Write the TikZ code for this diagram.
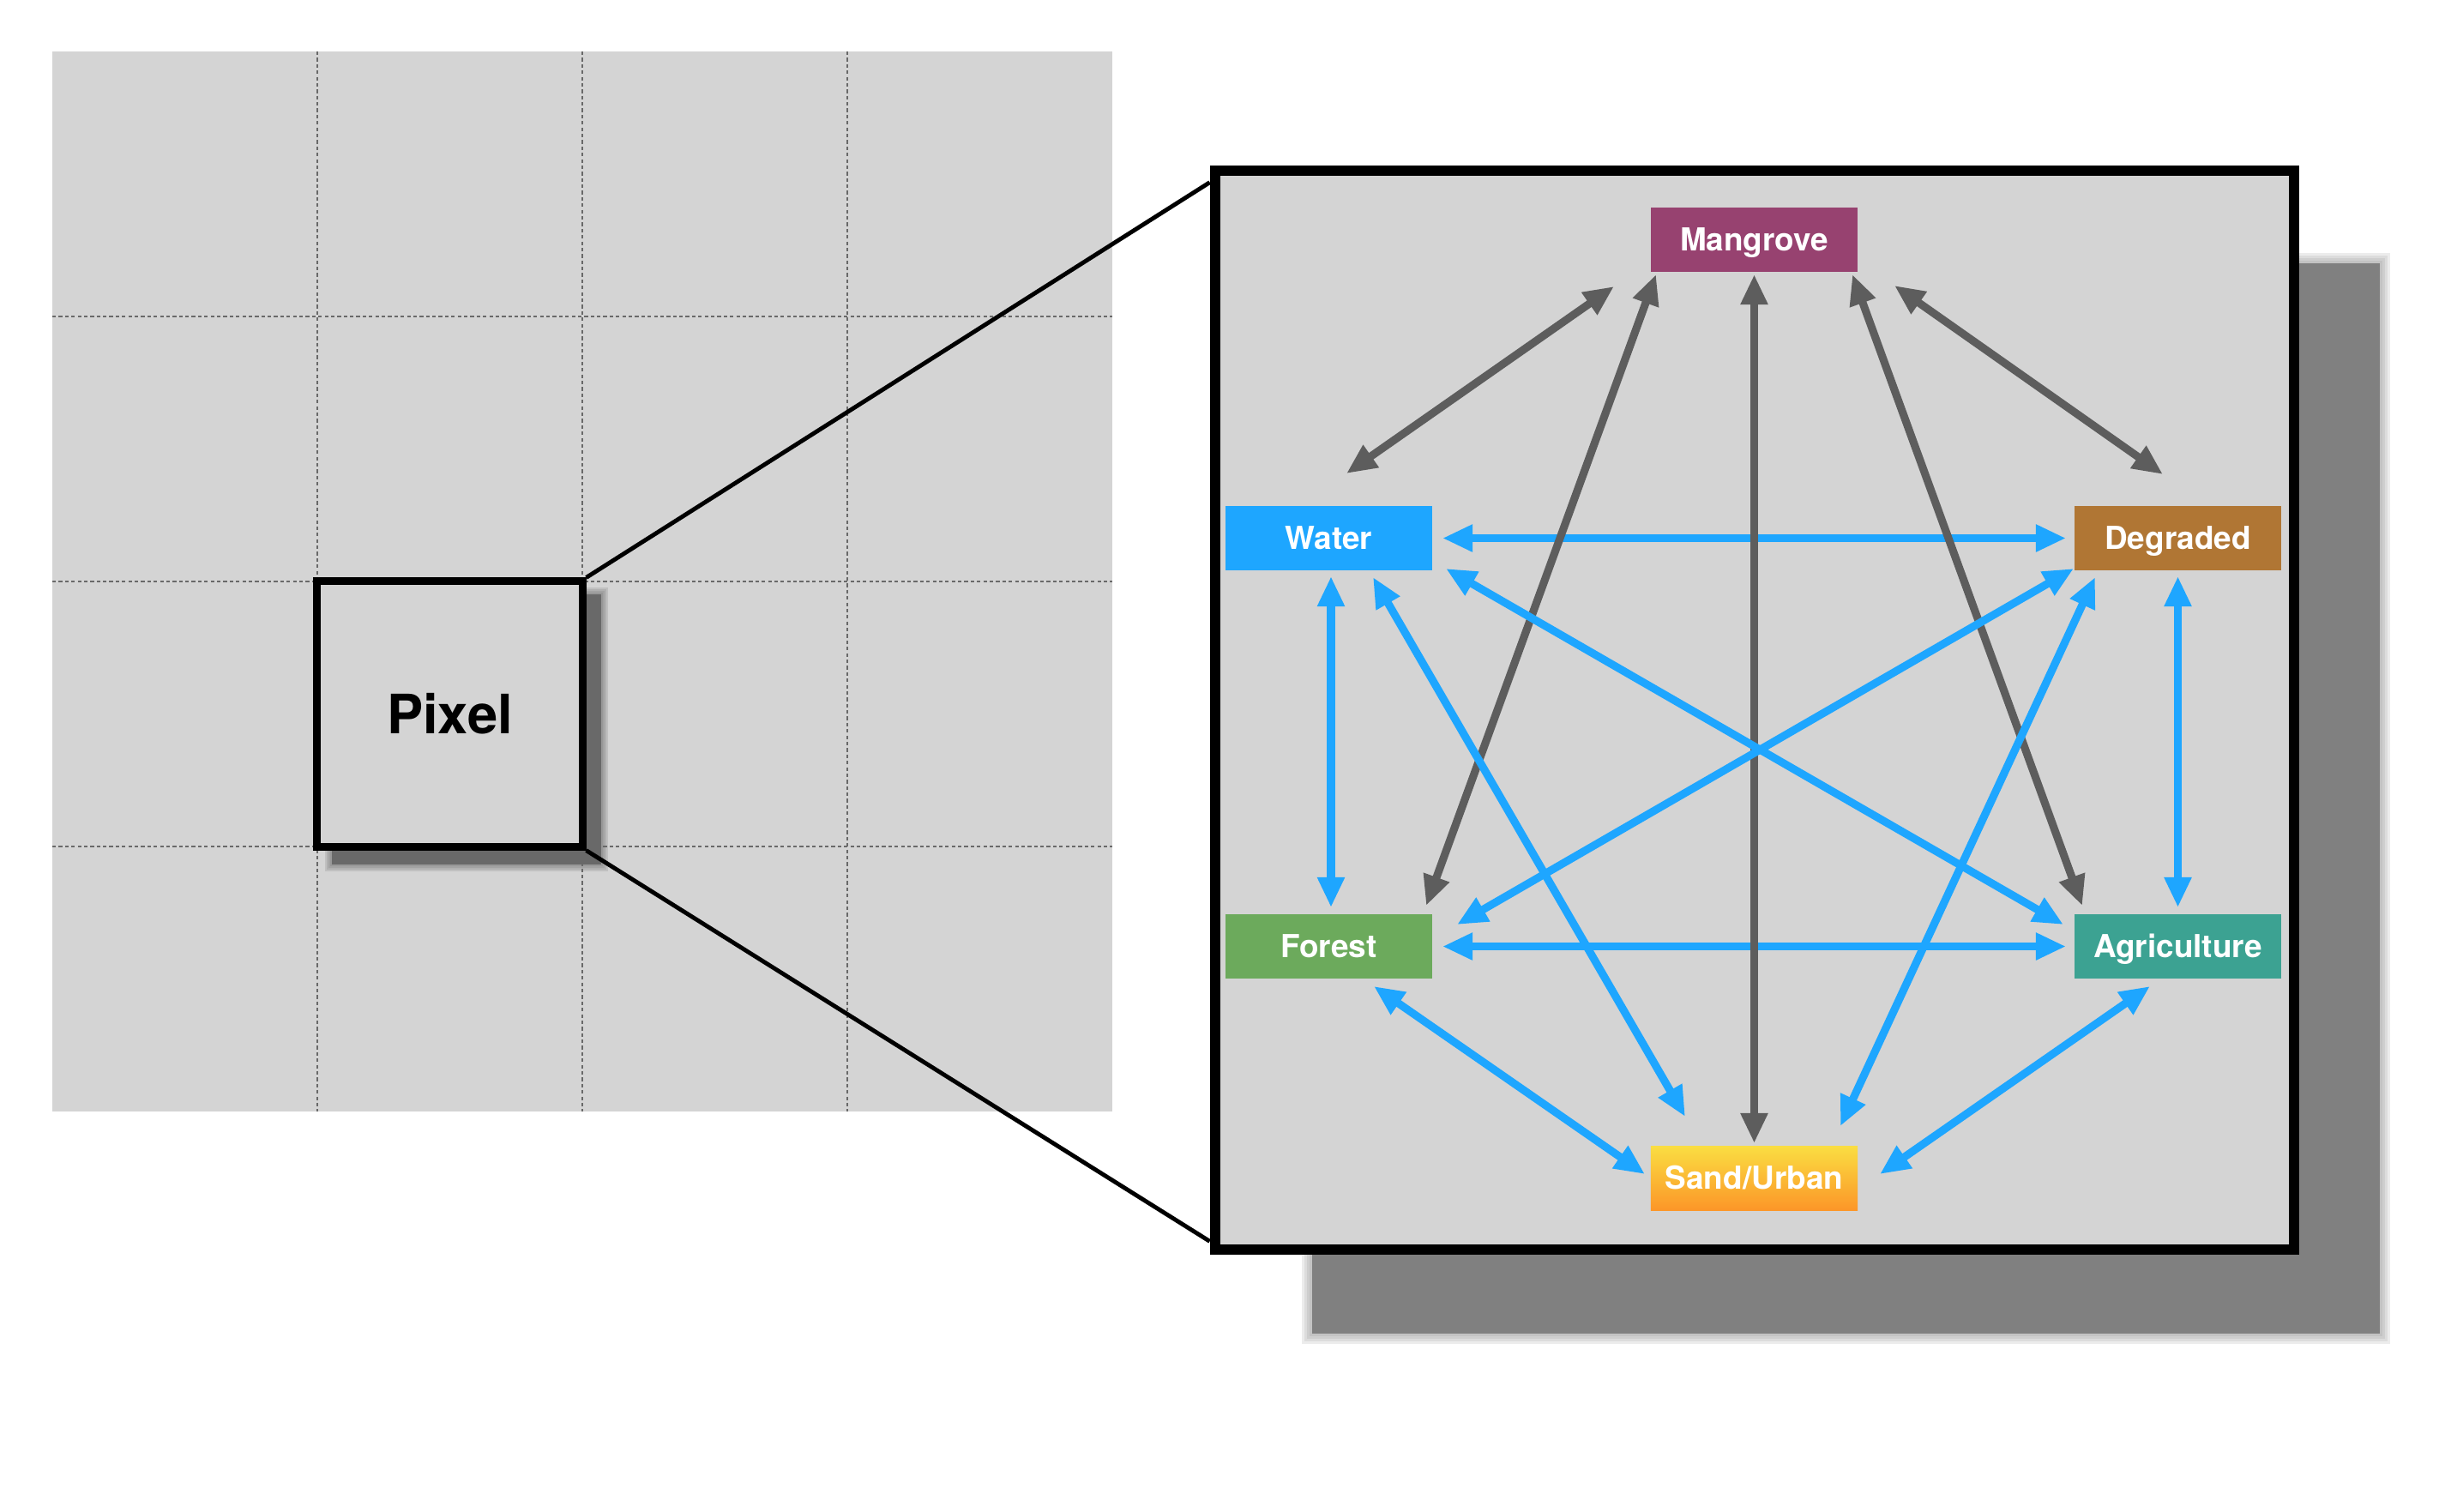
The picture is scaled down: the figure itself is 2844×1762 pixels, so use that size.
\documentclass[tikz,border=0pt]{standalone}
\usepackage{fontspec}
\setmainfont{TeX Gyre Heros}
\usetikzlibrary{arrows.meta}
\definecolor{BG}{RGB}{212,212,212}
\definecolor{G4}{RGB}{93,93,93}
\definecolor{G5}{RGB}{105,105,105}
\definecolor{SH}{RGB}{128,128,128}
\definecolor{B4}{RGB}{30,166,255}
\definecolor{MG}{RGB}{151,66,112}
\definecolor{DG}{RGB}{176,118,52}
\definecolor{FG}{RGB}{108,170,92}
\definecolor{AG}{RGB}{60,162,146}
\definecolor{SY}{RGB}{250,222,66}
\definecolor{SO}{RGB}{252,150,40}
\begin{document}
\begin{tikzpicture}[x=0.01cm, y=-0.01cm,
    cls/.style={minimum width=2.41cm, minimum height=0.75cm, inner sep=0pt, text=white,
      font=\fontsize{10.5}{10.5}\selectfont\bfseries, text height=7.5pt, text depth=0pt},
    garrow/.style={G4, line width=2.6pt, {Triangle[length=10pt,width=8.5pt]}-{Triangle[length=10pt,width=8.5pt]}},
    barrow/.style={B4, line width=2.6pt, {Triangle[length=10pt,width=8.5pt]}-{Triangle[length=10pt,width=8.5pt]}},
    gridline/.style={G5, line width=0.45pt, dash pattern=on 1.2pt off 0.9pt}]
  \useasboundingbox (0,0) rectangle (2844,1762);
  % pixel grid
  \fill[BG] (61,60) rectangle (1297,1296);
  \foreach \k in {1,2,3} {
    \draw[gridline] (61+309*\k,60) -- (61+309*\k,1296);
    \draw[gridline] (61,60+309*\k) -- (1297,60+309*\k);
  }
  \fill[G5] (387,693) rectangle (701,1008);
  \foreach \g in {2,4,6,8} \fill[G5, opacity=0.18] (387-\g,693-\g) rectangle (701+\g,1008+\g);
  \node[draw, line width=2.56pt, fill=BG, minimum size=3.09cm, inner sep=0pt,
    font=\fontsize{18}{18}\selectfont\bfseries, text height=12.9pt, text depth=0pt] (pixel) at (524.5,832.5) {Pixel};
  % zoomed frame
  \fill[SH] (1530,307) rectangle (2775,1555);
  \foreach \g in {3,6,9,12} \fill[SH, opacity=0.15] (1530-\g,307-\g) rectangle (2775+\g,1555+\g);
  \node[draw, line width=3.41pt, fill=BG, minimum size=12.58cm, inner sep=0pt] (zoombox) at (2046,828) {};
  \draw[line width=1.4pt] (pixel.north east) -- ([shift={(0,20)}]zoombox.north west);
  \draw[line width=1.4pt] (pixel.south east) -- ([shift={(0,-16)}]zoombox.south west);
  % classes
  \node[cls, fill=MG] (mangrove) at (2045.5,279.5) {Mangrove};
  \node[cls, fill=B4] (water) at (1549.5,627.5) {Water};
  \node[cls, fill=DG] (degraded) at (2539.5,627.5) {Degraded};
  \node[cls, fill=FG] (forest) at (1549.5,1103.5) {Forest};
  \node[cls, fill=AG] (agri) at (2539.5,1103.5) {Agriculture};
  \node[cls, top color=SY, bottom color=SO] (sand) at (2045.5,1373.5) {Sand/Urban};
  % transitions
  \draw[barrow] ([shift={(132.5,0)}]water.center) -- ([shift={(-130.5,0)}]degraded.center);
  \draw[barrow] ([shift={(132.5,0)}]forest.center) -- ([shift={(-130.5,0)}]agri.center);
  \draw[garrow] ([shift={(20.5,-75.5)}]water.center) -- ([shift={(-163.5,54.5)}]mangrove.center);
  \draw[garrow] ([shift={(113.5,-47.5)}]forest.center) -- ([shift={(-114.5,40.5)}]mangrove.center);
  \draw[garrow] ([shift={(0,40.5)}]mangrove.center) -- ([shift={(0,-40.5)}]sand.center);
  \draw[garrow] ([shift={(114.5,40.5)}]mangrove.center) -- ([shift={(-111.5,-47.5)}]agri.center);
  \draw[garrow] ([shift={(163.5,53.5)}]mangrove.center) -- ([shift={(-17.5,-74.5)}]degraded.center);
  \draw[barrow] ([shift={(2.5,44.5)}]water.center) -- ([shift={(2.5,-45.5)}]forest.center);
  \draw[barrow] ([shift={(136.5,35.5)}]water.center) -- ([shift={(-133.5,-25.5)}]agri.center);
  \draw[barrow] ([shift={(51.5,45.5)}]water.center) -- ([shift={(-80.5,-71.5)}]sand.center);
  \draw[barrow] ([shift={(-121.5,35.5)}]degraded.center) -- ([shift={(149.5,-25.5)}]forest.center);
  \draw[barrow] ([shift={(-96.5,45.5)}]degraded.center) -- ([shift={(100.5,-60.5)}]sand.center);
  \draw[barrow] ([shift={(0,44.5)}]degraded.center) -- ([shift={(0,-45.5)}]agri.center);
  \draw[barrow] ([shift={(52.5,46.5)}]forest.center) -- ([shift={(-127.5,-4.5)}]sand.center);
  \draw[barrow] ([shift={(-32.5,46.5)}]agri.center) -- ([shift={(146.5,-4.5)}]sand.center);
\end{tikzpicture}
\end{document}
